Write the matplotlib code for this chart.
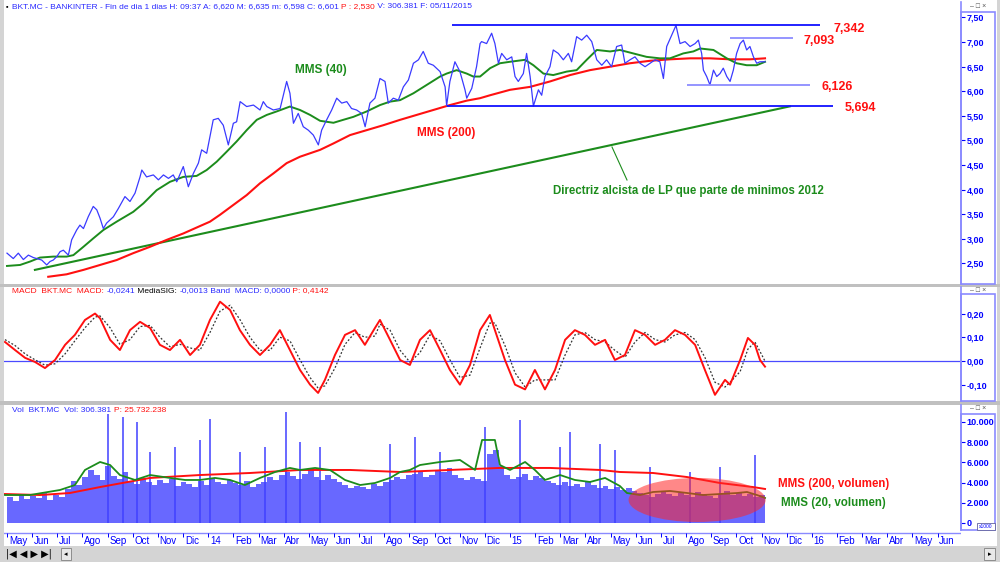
import matplotlib
matplotlib.use('Agg')
import matplotlib.pyplot as plt
from matplotlib.patches import Rectangle, Ellipse
from matplotlib.lines import Line2D
import numpy as np

plt.rcParams['font.family'] = ['Liberation Sans', 'DejaVu Sans']

# ---------------- data (x = months since 1 May 2013) ----------------
price_m = [0.0, 0.25, 0.45, 0.65, 0.85, 1.05, 1.18, 1.38, 1.58, 1.71, 1.84, 1.98, 2.11, 2.24, 2.44, 2.57,
           2.77, 2.90, 3.04, 3.23, 3.43, 3.57, 3.70, 3.83, 3.96, 4.23, 4.43, 4.69, 4.89, 5.09, 5.29, 5.36,
           5.55, 5.82, 6.02, 6.22, 6.42, 6.61, 6.75, 7.01, 7.21, 7.41, 7.61, 7.74, 7.94, 8.20, 8.40, 8.60,
           8.80, 9.00, 9.13, 9.27, 9.53, 9.80, 10.06, 10.19, 10.33, 10.59, 10.86, 11.12, 11.25, 11.39,
           11.58, 11.78, 11.98, 12.18, 12.38, 12.51, 12.71, 12.91, 13.11, 13.31, 13.51, 13.70, 13.90,
           14.10, 14.24, 14.43, 14.63, 14.83, 15.03, 15.16, 15.36, 15.56, 15.76, 15.96, 16.16, 16.36,
           16.55, 16.75, 16.95, 17.22, 17.42, 17.48, 17.61, 17.81, 18.01, 18.21, 18.28, 18.48, 18.67,
           18.81, 18.87, 19.07, 19.27, 19.40, 19.54, 19.67, 19.87, 20.07, 20.20, 20.33, 20.53, 20.66,
           20.80, 20.93, 21.13, 21.26, 21.39, 21.59, 21.72, 21.92, 22.12, 22.32, 22.45, 22.65, 22.85,
           23.05, 23.25, 23.45, 23.65, 23.84, 24.04, 24.24, 24.44, 24.57, 24.77, 24.97, 25.17, 25.37,
           25.57, 25.77, 25.96, 26.10, 26.23, 26.43, 26.60, 26.76, 26.96, 27.16, 27.36, 27.49, 27.62,
           27.69, 27.82, 27.95, 28.09, 28.22, 28.35, 28.48, 28.62, 28.75, 28.88, 29.01, 29.15, 29.28,
           29.41, 29.54, 29.68, 29.81, 29.94, 30.07, 30.14]
price = [2.71, 2.60, 2.71, 2.58, 2.67, 2.62, 2.60, 2.57, 2.47, 2.54, 2.57, 2.64, 2.74, 2.77, 2.67, 2.98,
         3.18, 3.28, 3.21, 3.45, 3.66, 3.59, 3.42, 3.21, 3.32, 3.45, 3.62, 3.86, 3.76, 3.93, 4.26, 4.40,
         4.26, 4.30, 4.20, 4.30, 4.23, 4.30, 4.16, 4.47, 4.06, 4.33, 4.54, 4.81, 4.74, 5.42, 5.45, 5.31,
         4.91, 5.35, 5.38, 5.79, 5.69, 5.72, 5.62, 5.79, 5.69, 5.62, 5.65, 6.20, 5.96, 5.35,
         5.55, 5.28, 5.21, 5.11, 4.91, 5.21, 5.42, 5.62, 5.86, 5.76, 5.79, 5.65, 5.62,
         5.55, 5.28, 5.76, 5.86, 6.26, 6.20, 5.76, 5.86, 5.82, 6.09, 6.23, 6.57, 6.64,
         6.81, 6.57, 6.53, 6.40, 6.09, 5.71, 6.20, 6.60, 6.40, 6.03, 5.86, 6.06, 6.50,
         6.97, 7.01, 6.97, 7.18, 6.97, 6.57, 6.77, 6.64, 6.70, 6.30, 6.20, 6.36, 6.77,
         6.30, 5.70, 6.03, 5.92, 6.30, 6.50, 6.84, 6.77, 6.64, 6.77, 6.60, 7.11, 7.04,
         7.14, 7.01, 6.64, 6.53, 6.64, 6.50, 6.91, 6.94, 6.57, 6.64, 6.70, 6.57, 6.50,
         6.57, 6.64, 6.60, 6.26, 6.91, 7.14, 7.34, 6.97, 7.01, 6.91, 6.97, 7.04, 6.77,
         6.43, 6.30, 6.13, 6.43, 6.30, 6.36, 6.47, 6.30, 6.20, 6.43, 6.77, 6.97, 7.04,
         6.84, 6.91, 6.70, 6.57, 6.60, 6.60, 6.60]

mms40_m = [0.0, 0.52, 0.92, 1.31, 1.84, 2.37, 2.64, 3.04, 3.43, 3.83, 4.36, 5.02, 5.42, 5.95, 6.48, 7.01,
           7.54, 7.94, 8.34, 8.73, 9.13, 9.53, 9.93, 10.33, 10.72, 11.25, 11.65, 12.05, 12.45, 12.98,
           13.37, 13.77, 14.30, 14.83, 15.23, 15.63, 16.16, 16.69, 17.22, 17.48, 17.88, 18.28, 18.54,
           18.81, 19.21, 19.60, 20.00, 20.60, 20.93, 21.33, 21.72, 22.25, 22.65, 23.05, 23.45, 23.98,
           24.37, 24.90, 25.43, 25.96, 26.36, 26.89, 27.29, 27.56, 28.09, 28.62, 29.01, 29.41, 29.81, 30.14]
mms40 = [2.45, 2.47, 2.54, 2.62, 2.64, 2.64, 2.67, 2.84, 3.01, 3.18, 3.35, 3.55, 3.72, 3.99, 4.16, 4.26,
         4.28, 4.40, 4.57, 4.77, 4.98, 5.21, 5.42, 5.52, 5.59, 5.69, 5.62, 5.52, 5.40, 5.36,
         5.42, 5.48, 5.59, 5.72, 5.79, 5.82, 5.96, 6.13, 6.30, 6.36, 6.43, 6.36, 6.30,
         6.30, 6.47, 6.57, 6.60, 6.64, 6.53, 6.36, 6.33, 6.40, 6.43, 6.64, 6.84, 6.81,
         6.84, 6.77, 6.70, 6.67, 6.67, 6.77, 6.81, 6.87, 6.84, 6.67, 6.57, 6.53, 6.53, 6.60]

mms200_m = [1.64, 2.37, 3.04, 3.70, 4.36, 5.02, 5.69, 6.35, 7.01, 7.67, 8.07, 8.47, 9.00, 9.53, 10.06,
            10.59, 11.12, 11.65, 12.45, 12.98, 13.64, 14.30, 14.96, 15.63, 16.29, 16.95, 17.61, 18.28,
            18.81, 19.21, 20.00, 20.80, 21.59, 22.39, 23.18, 23.98, 24.77, 25.57, 26.36, 27.16, 27.95,
            28.75, 29.54, 30.14]
mms200 = [2.23, 2.28, 2.37, 2.47, 2.57, 2.71, 2.84, 2.98, 3.11, 3.26, 3.35, 3.49, 3.69, 3.89, 4.13,
          4.33, 4.54, 4.67, 4.81, 4.94, 5.11, 5.21, 5.31, 5.42, 5.52, 5.62, 5.72, 5.81,
          5.86, 5.92, 6.03, 6.09, 6.20, 6.33, 6.43, 6.50, 6.57, 6.62, 6.65, 6.67, 6.67,
          6.65, 6.65, 6.67]

trend_m = [1.11, 31.13]
trend_p = [2.37, 5.694]

levels = [7.342, 7.093, 6.126, 5.694]
level_start = [17.69, 28.75, 27.04, 17.50]
level_end = [32.33, 31.25, 31.93, 32.84]
level_labels = ['7,342', '7,093', '6,126', '5,694']

macd_m = [-0.08, 0.32, 0.72, 1.11, 1.51, 1.91, 2.31, 2.70, 3.10, 3.50, 3.70, 4.10, 4.49, 4.89, 5.29, 5.69,
          6.08, 6.48, 6.88, 7.28, 7.67, 8.07, 8.47, 8.87, 9.26, 9.66, 10.06, 10.46, 10.85, 11.25, 11.65,
          12.05, 12.37, 12.64, 13.04, 13.44, 13.84, 14.23, 14.63, 14.83, 15.23, 15.63, 16.02, 16.42,
          16.82, 17.22, 17.61, 18.01, 18.41, 18.81, 19.20, 19.40, 19.80, 20.20, 20.60, 20.99, 21.39,
          21.79, 22.19, 22.58, 22.98, 23.38, 23.78, 24.17, 24.57, 24.97, 25.37, 25.77, 26.16, 26.56,
          26.96, 27.36, 27.75, 28.15, 28.55, 28.75, 29.15, 29.46, 29.74, 29.94, 30.14]
macd = [0.08, 0.046, 0.013, -0.004, -0.03, 0.004, 0.068, 0.11, 0.173, 0.20,
        0.18, 0.089, 0.046, 0.13, 0.165, 0.139, 0.068, 0.046, 0.089, 0.025,
        0.068, 0.173, 0.25, 0.215, 0.13, 0.068, 0.025, 0.068, 0.13, 0.046,
        -0.038, -0.10, -0.135, -0.08, 0.025, 0.11, 0.13, 0.068, 0.139, 0.173,
        0.089, 0.004, -0.017, 0.089, 0.13, 0.046, -0.038, -0.10, -0.017, 0.13,
        0.194, 0.13, 0.004, -0.10, -0.12, -0.038, -0.12, -0.038, 0.089, 0.13,
        0.11, 0.068, 0.089, 0.004, 0.025, 0.13, 0.11, 0.068, 0.089, 0.13,
        0.11, 0.068, -0.038, -0.143, -0.08, -0.10, 0.004, 0.097, 0.068, 0.004, -0.024]
signal = [0.09, 0.065, 0.03, 0.005, -0.018, -0.012, 0.03, 0.085, 0.14, 0.185,
          0.19, 0.14, 0.07, 0.09, 0.145, 0.15, 0.10, 0.06, 0.07, 0.055,
          0.045, 0.12, 0.21, 0.235, 0.175, 0.10, 0.045, 0.045, 0.10, 0.085,
          0.005, -0.07, -0.115, -0.105, -0.03, 0.07, 0.12, 0.10, 0.105, 0.155,
          0.13, 0.045, -0.005, 0.035, 0.11, 0.085, 0.005, -0.07, -0.06, 0.055,
          0.16, 0.16, 0.065, -0.05, -0.11, -0.08, -0.08, -0.08, 0.025, 0.11,
          0.12, 0.09, 0.08, 0.045, 0.015, 0.08, 0.12, 0.09, 0.08, 0.11,
          0.12, 0.09, 0.015, -0.09, -0.11, -0.09, -0.045, 0.05, 0.08, 0.04, -0.001]

vol_week = [2600, 2200, 2900, 2400, 2700, 2500, 3100, 2300, 2800, 2600, 3400, 4200, 3800, 4600,
            5200, 4800, 4300, 5600, 4700, 4400, 5000, 4200, 3900, 4500, 4100, 3800, 4300,
            4000, 4400, 3700, 4100, 3900, 3600, 4200, 3800, 4500, 4100, 3900, 4300, 4000,
            3800, 4200, 3600, 3900, 4100, 4600, 4300, 4800, 5000, 4700, 4400, 4900, 5200,
            4600, 4300, 4800, 4400, 4100, 3800, 3500, 3700, 3600, 3400, 3900, 3700, 4100,
            4300, 4600, 4400, 4800, 4900, 5100, 4600, 4800, 5200, 5000, 5400, 4800, 4500,
            4300, 4600, 4400, 4200, 6800, 7200, 5600, 4800, 4400, 4600, 4900, 4300, 4700,
            4500, 4200, 4000, 3800, 4100, 3700, 3900, 3600, 4200, 3800, 3500, 3700, 3400,
            3600, 3300, 3500, 3200, 3000, 2800, 2600, 2900, 3200, 2900, 2700, 3000, 2800,
            2600, 3100, 2900, 2700, 2500, 2900, 3200, 2800, 3000, 2700, 2900, 2600, 2800]
spike_m = [4.02, 4.61, 5.17, 5.69, 6.68, 7.67, 8.07, 9.26, 10.26, 11.09, 11.65, 12.45, 15.23, 16.22,
           17.22, 19.01, 20.40, 21.99, 22.39, 23.58, 24.17, 25.57, 27.16, 28.35, 29.74]
spike_v = [10800, 10500, 10000, 7000, 7500, 8200, 10300, 7000, 7500, 11000, 8000, 7500, 7800, 8500,
           7000, 9500, 10200, 7500, 9000, 7800, 7200, 5500, 5000, 5500, 6700]

vma20_m = [-0.08, 0.91, 2.11, 2.70, 3.10, 3.70, 4.10, 4.49, 5.09, 5.69, 6.48, 7.08, 7.67, 8.27, 8.87,
           9.46, 10.06, 10.66, 11.25, 11.65, 12.25, 12.84, 13.44, 14.04, 14.63, 15.23, 15.63, 16.02,
           16.42, 17.22, 18.01, 18.61, 18.89, 19.40, 19.60, 20.00, 20.60, 20.99, 21.39, 21.99, 22.58,
           23.18, 23.78, 24.37, 24.65, 25.17, 25.69, 26.36, 27.04, 27.67, 28.35, 29.03, 29.42, 29.82, 30.14]
vma20 = [2770, 2770, 3270, 3760, 5250, 6040, 5740, 4750, 4260, 4750, 4460, 4260, 4260, 4460, 4260,
         3760, 4460, 5050, 5450, 5250, 5450, 5250, 4260, 3760, 3960, 4460, 5050, 5250,
         5740, 6040, 6240, 5250, 8220, 8220, 5740, 5250, 6040, 5250, 4260, 4750, 4260,
         4060, 4460, 3660, 2970, 2770, 3070, 3170, 2970, 2770, 2870, 2970, 3070, 2770, 2480]
vma200_m = [-0.08, 1.31, 2.50, 3.70, 5.69, 7.67, 9.66, 11.65, 13.64, 15.63, 17.61, 19.60, 21.59,
            23.58, 24.37, 25.69, 27.04, 28.35, 29.66, 30.14]
vma200 = [2870, 2770, 2970, 3560, 4460, 4750, 4950, 5250, 5250, 5050, 5250, 5450, 5450,
          5250, 5050, 4950, 4550, 3960, 3560, 3370]

month_labels = ['May', 'Jun', 'Jul', 'Ago', 'Sep', 'Oct', 'Nov', 'Dic', '14', 'Feb', 'Mar', 'Abr',
                'May', 'Jun', 'Jul', 'Ago', 'Sep', 'Oct', 'Nov', 'Dic', '15', 'Feb', 'Mar', 'Abr',
                'May', 'Jun', 'Jul', 'Ago', 'Sep', 'Oct', 'Nov', 'Dic', '16', 'Feb', 'Mar', 'Abr',
                'May', 'Jun']

# ---------------- layout ----------------
W, H = 1000, 562
fig = plt.figure(figsize=(10, 5.62), dpi=100, facecolor='#d4d4d4')
BLUE = '#2a2aff'
AXBLUE = '#0000ff'
BOX = '#8a8aff'
GREEN = '#1c8c1c'
RED = '#ff1010'
XL = ((4 - 7) / 25.15, (961 - 7) / 25.15)


def fx(x):
    return x / W


def fy(y):
    return 1 - y / H


def pax(l, t, r, b):
    a = fig.add_axes([l / W, 1 - b / H, (r - l) / W, (b - t) / H])
    a.set_zorder(2)
    return a


def frect(l, t, r, b, z=5, **kw):
    fig.add_artist(Rectangle((fx(l), fy(b)), (r - l) / W, (b - t) / H,
                             transform=fig.transFigure, zorder=z, **kw))


def ftext(x, y, s, **kw):
    fig.text(fx(x), fy(y), s, zorder=6, **kw)


# white panels (behind axes)
frect(4, 0, 997, 284, z=-5, facecolor='white', edgecolor='none')
frect(4, 287, 997, 401, z=-5, facecolor='white', edgecolor='none')
frect(4, 405, 997, 546, z=-5, facecolor='white', edgecolor='none')
frect(0, 284, 1000, 287, z=-5, facecolor='#c0c0c0', edgecolor='none')
frect(0, 401, 1000, 405, z=-5, facecolor='#c0c0c0', edgecolor='none')


def style_axis(ax, ticks, labels, ylim):
    ax.set_xlim(*XL)
    ax.set_ylim(*ylim)
    ax.set_facecolor('none')
    for s in ['top', 'left', 'bottom']:
        ax.spines[s].set_visible(False)
    ax.spines['right'].set_color(BOX)
    ax.spines['right'].set_linewidth(1.2)
    ax.set_xticks([])
    ax.yaxis.tick_right()
    ax.set_yticks(ticks)
    ax.set_yticklabels(labels)
    ax.tick_params(axis='y', colors=AXBLUE, length=3, width=0.8, pad=1.2, labelsize=6.5)
    for t in ax.get_yticklabels():
        t.set_fontweight('bold')
        t.set_color(AXBLUE)


# ---- price panel ----
ax1 = pax(4, 2, 961, 284)
style_axis(ax1, [2.5, 3, 3.5, 4, 4.5, 5, 5.5, 6, 6.5, 7, 7.5],
           ['2,50', '3,00', '3,50', '4,00', '4,50', '5,00', '5,50', '6,00', '6,50', '7,00', '7,50'],
           (2.083, 7.815))
ax1.plot(trend_m, trend_p, color=GREEN, lw=1.5, zorder=2)
ax1.plot(mms200_m, mms200, color=RED, lw=1.5, zorder=3)
ax1.plot(mms40_m, mms40, color=GREEN, lw=1.4, zorder=3)
ax1.plot(price_m, price, color='#3a3aff', lw=0.9, zorder=4)
lvl_colors = ['#1010ff', '#8c8cff', '#8c8cff', '#1010ff']
for lv, a, b, c in zip(levels, level_start, level_end, lvl_colors):
    ax1.hlines(lv, a, b, color=c, lw=1.3, zorder=5)
frect(961, 12, 995, 284, facecolor='none', edgecolor=BOX, lw=1.2)

# annotations
lbl_pos = [(833, 29), (803, 41), (822, 87), (845, 108)]
for (x, y), s in zip(lbl_pos, level_labels):
    ftext(x, y, s, color=RED, fontsize=9, fontweight='bold', va='center', ha='left')
ftext(295, 70, 'MMS (40)', color=GREEN, fontsize=8.5, fontweight='bold', va='center')
ftext(417, 133, 'MMS (200)', color=RED, fontsize=8.5, fontweight='bold', va='center')
ftext(553, 191, 'Directriz alcista de LP que parte de minimos 2012', color=GREEN,
      fontsize=8.3, fontweight='bold', va='center')
fig.add_artist(Line2D([fx(612), fx(627)], [fy(147), fy(180)], color=GREEN, lw=0.8,
                      transform=fig.transFigure, zorder=6))

# ---- MACD panel ----
ax2 = pax(4, 287, 961, 401)
style_axis(ax2, [-0.1, 0, 0.1, 0.2], ['-0,10', '0,00', '0,10', '0,20'], (-0.169, 0.312))
ax2.axhline(0, color='#4a4aff', lw=0.9)
ax2.plot(macd_m, signal, color='#333333', lw=0.9, ls=(0, (1.5, 1.5)))
ax2.plot(macd_m, macd, color=RED, lw=1.4)
frect(961, 294, 995, 401, facecolor='none', edgecolor=BOX, lw=1.2)

# ---- volume panel ----
ax3 = pax(4, 405, 961, 530)
style_axis(ax3, [0, 2000, 4000, 6000, 8000, 10000],
           ['0', '2.000', '4.000', '6.000', '8.000', '10.000'], (-693, 11682))
week_m = np.arange(len(vol_week)) * 7 / 30.44
ax3.bar(week_m, vol_week, width=0.23, color='#6868ff', linewidth=0, align='edge', zorder=1)
ax3.vlines(spike_m, 0, spike_v, color='#4040ff', lw=1.1, zorder=1)
ax3.plot(vma200_m, vma200, color=RED, lw=1.4, zorder=3)
ax3.plot(vma20_m, vma20, color=GREEN, lw=1.3, zorder=3)
ax3.add_patch(Ellipse((27.44, 2280), 5.45, 4360, facecolor=(1, 0.15, 0.15, 0.55),
                      edgecolor='none', zorder=4))
frect(961, 414, 995, 530, facecolor='none', edgecolor=BOX, lw=1.2)
frect(977, 523, 995, 530, facecolor='white', edgecolor='#6060a0', lw=0.6)
ftext(986, 526.5, 'x1000', fontsize=3.5, color=AXBLUE, ha='center', va='center')
ftext(778, 484, 'MMS (200, volumen)', color=RED, fontsize=8.3, fontweight='bold', va='center')
ftext(781, 503, 'MMS (20, volumen)', color=GREEN, fontsize=8.3, fontweight='bold', va='center')

# ---- time axis ----
axt = pax(4, 530, 961, 546)
axt.set_xlim(*XL)
axt.set_ylim(0, 1)
axt.axis('off')
axt.axhline(0.81, color=BOX, lw=1.0)
mpos = np.arange(len(month_labels))
axt.vlines(mpos, 0.56, 0.81, color=AXBLUE, lw=0.7)
for m, s in zip(mpos, month_labels):
    axt.text(m + 0.07, 0.3, s, color=AXBLUE, fontsize=7, ha='left', va='center')

# ---- header texts ----
renderer = fig.canvas.get_renderer()


def seg_text(xpx, ypx, segs, size=6.0):
    x = xpx
    for s, c in segs:
        t = fig.text(fx(x), fy(ypx), s, color=c, fontsize=size, va='center', ha='left', zorder=6)
        x += t.get_window_extent(renderer=renderer).width


seg_text(12, 7, [('BKT.MC - BANKINTER - Fin de dia 1 dias H: 09:37 A: 6,620 M: 6,635 m: 6,598 C: 6,601 ', BLUE),
                 ('P : 2,530', RED), (' V: 306.381 F: 05/11/2015', BLUE)])
seg_text(12, 291, [('MACD  BKT.MC  MACD: ', RED), ('-0,0241', BLUE), (' MediaSIG: ', 'black'),
                   ('-0,0013', BLUE), (' Band  MACD: 0,0000', BLUE), (' P: 0,4142', RED)])
seg_text(12, 410, [('Vol  BKT.MC  Vol: 306.381 ', BLUE), ('P: 25.732.238', RED)])
ftext(6, 7, '\u25aa', fontsize=5, color='black', va='center')
for y in (6, 290, 409):
    ftext(978, y, '\u2013 \u25a1 \u00d7', fontsize=5, color='#505050', va='center', ha='center')

# bottom navigation bar
ftext(6, 554, '|\u25c0 \u25c0 \u25b6 \u25b6|', fontsize=7, color='black', va='center', family='DejaVu Sans')
frect(61, 548, 71, 560, facecolor='#e8e8e8', edgecolor='#808080', lw=0.6)
ftext(66, 554, '\u25c2', fontsize=5, color='black', va='center', ha='center', family='DejaVu Sans')
frect(984, 548, 995, 560, facecolor='#e8e8e8', edgecolor='#808080', lw=0.6)
ftext(989.5, 554, '\u25b8', fontsize=5, color='black', va='center', ha='center', family='DejaVu Sans')

fig.savefig('out.png', dpi=100, facecolor=fig.get_facecolor())
